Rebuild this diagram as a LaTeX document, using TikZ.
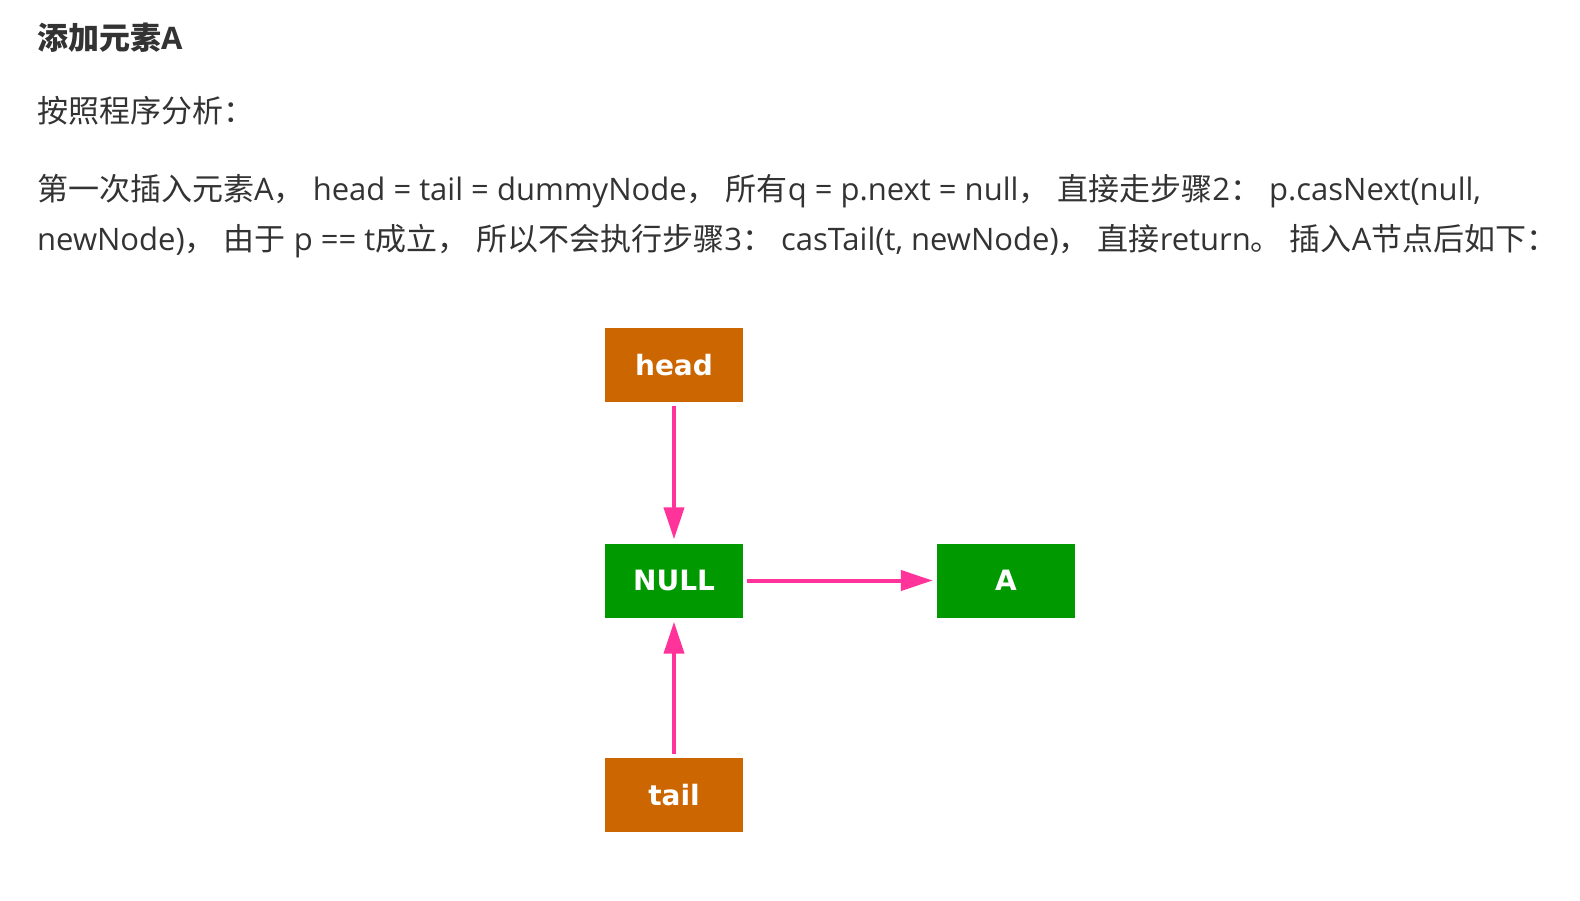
\documentclass[tikz,border=0pt]{standalone}
\usepackage{fontspec}
\setmainfont{Open Sans}
\newfontfamily\cjkfont{Noto Sans CJK SC}
\newfontfamily\boxfont{DejaVu Sans}
\newcommand\zh[1]{{\cjkfont#1}}
\newcommand\zp[1]{{\cjkfont#1}\kern8pt}
\usetikzlibrary{arrows.meta}
\definecolor{textgray}{RGB}{51,51,51}
\definecolor{ptrorange}{RGB}{204,102,0}
\definecolor{nodegreen}{RGB}{0,153,0}
\definecolor{linkpink}{RGB}{255,51,153}
\tikzset{
	txt/.style={anchor=base west, inner sep=0pt, text=textgray, font=\fontsize{31}{37}\selectfont},
	box/.style={minimum width=138pt, minimum height=74pt, inner sep=0pt, text=white, font=\boxfont\bfseries\fontsize{28}{30}\selectfont},
	ptr/.style={box, fill=ptrorange},
	elem/.style={box, fill=nodegreen},
	link/.style={line width=4pt, color=linkpink, shorten >=4pt, shorten <=4pt, -{Triangle[length=32pt,width=20pt]}}
}

\begin{document}
\begin{tikzpicture}[x=1pt, y=-1pt]
		%%%%% START %%%%%
		
		\fill[white] (0, 0) rectangle (1580, 900);
		
		\node[txt] (title) at (37, 49) {\bfseries\zh{添加元素}A};
		\node[txt] (intro) at (37, 122) {\zh{按照程序分析：}};
		\node[txt] (lineA) at (37, 200) {\zh{第一次插入元素}A\zp{，}head = tail = dummyNode\zp{，}\zh{所有}q = p.next = null\zp{，}\zh{直接走步骤}2\zp{：}p.casNext(null,};
		\node[txt] (lineB) at (37, 250) {newNode)\zp{，}\zh{由于} p == t\zh{成立}\zp{，}\zh{所以不会执行步骤}3\zp{：}casTail(t, newNode)\zp{，}\zh{直接}return\zp{。}\zh{插入}A\zh{节点后如下：}};
		
		\node[ptr] (head) at (674, 365) {head};
		\node[elem] (null) at (674, 580.5) {NULL};
		\node[elem] (a) at (1006, 580.5) {A};
		\node[ptr] (tail) at (674, 795) {tail};
		
		\draw[link] (head) -- (null);
		\draw[link] (null) -- (a);
		\draw[link] (tail) -- (null);
		
		%%%%% END %%%%%
	\end{tikzpicture}
\end{document}
